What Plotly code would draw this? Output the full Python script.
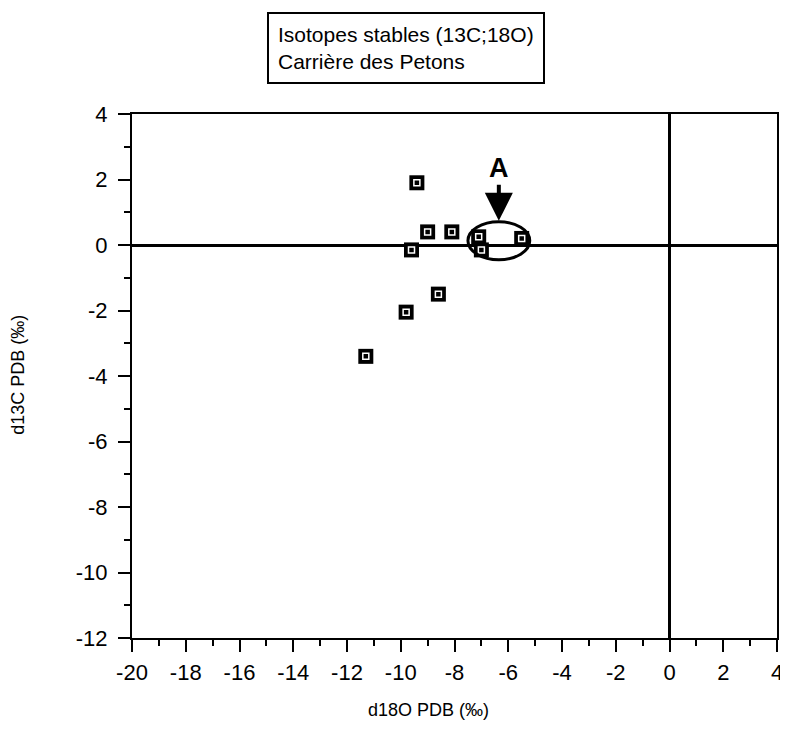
import plotly.graph_objects as go

# d18O / d13C values
d18O = [-9.4, -9.0, -8.1, -9.6, -7.1, -7.0, -5.5, -8.6, -9.8, -11.3]
d13C = [1.9, 0.4, 0.4, -0.15, 0.25, -0.15, 0.2, -1.5, -2.05, -3.4]

x_ticks = list(range(-20, 5, 2))
y_ticks = list(range(-12, 5, 2))

FONT = "Liberation Sans, Arial, sans-serif"

fig = go.Figure()
fig.add_trace(go.Scatter(x=d18O, y=d13C, mode="markers",
                         marker=dict(symbol="square", size=15, color="black"),
                         hoverinfo="x+y"))
fig.add_trace(go.Scatter(x=d18O, y=d13C, mode="markers",
                         marker=dict(symbol="square-open", size=6, color="white",
                                     line=dict(width=1.5, color="white")),
                         hoverinfo="skip"))

# ellipse around group A
fig.add_shape(type="circle", xref="x", yref="y",
              x0=-7.5, x1=-5.2, y0=-0.45, y1=0.71,
              line=dict(color="black", width=3))

fig.add_annotation(x=-6.35, y=0.74, xref="x", yref="y",
                   text="<b>A</b>", showarrow=True, arrowhead=2, arrowsize=1.4,
                   arrowwidth=4, arrowcolor="black", ax=0, ay=-36,
                   font=dict(family=FONT, size=27, color="black"),
                   yanchor="bottom")

fig.add_annotation(x=0.425, y=1.126, xref="paper", yref="paper",
                   text="Isotopes stables (13C;18O)<br>Carrière des Petons",
                   showarrow=False, align="left", xanchor="center", yanchor="middle",
                   bordercolor="black", borderwidth=2, borderpad=9,
                   font=dict(family=FONT, size=21, color="black"))

# axis titles
fig.add_annotation(x=0.46, y=-0.137, xref="paper", yref="paper",
                   text="d18O PDB (‰)", showarrow=False,
                   xanchor="center", yanchor="middle",
                   font=dict(family=FONT, size=18, color="black"))
fig.add_annotation(x=-0.177, y=0.502, xref="paper", yref="paper",
                   text="d13C PDB (‰)", showarrow=False, textangle=-90,
                   xanchor="center", yanchor="middle",
                   font=dict(family=FONT, size=18, color="black"))

axis_common = dict(showgrid=False, showline=True, linecolor="black", linewidth=2,
                   mirror=True, ticks="outside", tickcolor="black", tickwidth=2,
                   ticklen=12, zeroline=True, zerolinecolor="black", zerolinewidth=3,
                   automargin=False, ticklabeloverflow="allow",
                   tickfont=dict(family=FONT, size=22, color="black"),
                   minor=dict(dtick=1, ticks="outside", ticklen=6, tickwidth=2,
                              tickcolor="black"))

fig.update_xaxes(range=[-20, 4], tickvals=x_ticks, ticktext=[str(v) for v in x_ticks],
                 ticklabelstandoff=2, **axis_common)
fig.update_yaxes(range=[-12, 4], tickvals=y_ticks, ticktext=[str(v) for v in y_ticks],
                 ticklabelstandoff=6, **axis_common)

# page body adds an 8px margin, so the figure is kept inside the window
fig.update_layout(width=780, height=725, showlegend=False,
                  plot_bgcolor="white", paper_bgcolor="white",
                  margin=dict(l=124, r=11, t=106, b=95))

fig.write_html("out.html")
